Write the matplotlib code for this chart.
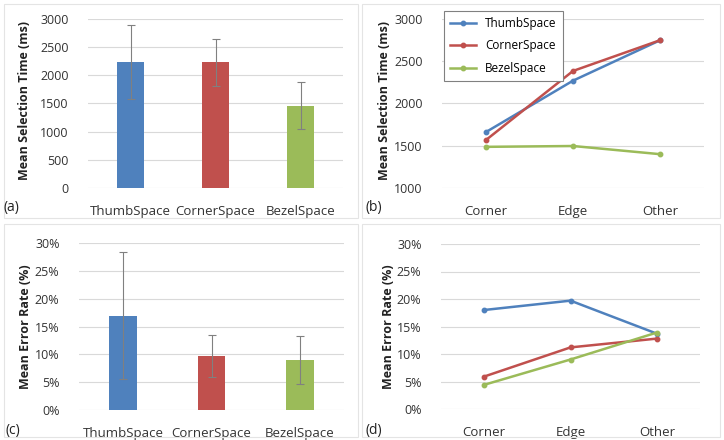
import matplotlib.pyplot as plt
from matplotlib.patches import Rectangle
from matplotlib.ticker import FuncFormatter

plt.rcParams['font.family'] = ['Open Sans', 'DejaVu Sans']

techniques = ['ThumbSpace', 'CornerSpace', 'BezelSpace']
regions = ['Corner', 'Edge', 'Other']
colors = ['#4f81bd', '#c0504d', '#9bbb59']

# (a) mean selection time per technique, with std error bars
time_mean = [2240, 2230, 1460]
time_err = [660, 420, 420]

# (b) selection time per target region
time_by_region = {
    'ThumbSpace': [1660, 2270, 2750],
    'CornerSpace': [1565, 2385, 2750],
    'BezelSpace': [1487, 1497, 1400],
}

# (c) mean error rate per technique (%)
err_mean = [16.9, 9.7, 9.0]
err_err = [11.4, 3.8, 4.3]

# (d) error rate per target region (%)
err_by_region = {
    'ThumbSpace': [18.0, 19.7, 13.7],
    'CornerSpace': [5.9, 11.2, 12.8],
    'BezelSpace': [4.4, 9.0, 13.9],
}

W, H = 724, 440
fig = plt.figure(figsize=(W / 100, H / 100), dpi=100)


def px_axes(x0, y0, x1, y1):
    return fig.add_axes([x0 / W, 1 - y1 / H, (x1 - x0) / W, (y1 - y0) / H])


def style(ax, ylim, ticks, fmt=None):
    ax.set_ylim(*ylim)
    ax.set_yticks(ticks)
    ax.set_xlim(-0.5, 2.5)
    ax.grid(axis='y', color='#d9d9d9', linewidth=0.8)
    ax.set_axisbelow(True)
    for s in ax.spines.values():
        s.set_visible(False)
    ax.tick_params(length=0, colors='#333333')
    ax.tick_params(axis='y', pad=14, labelsize=9)
    ax.tick_params(axis='x', pad=12, labelsize=9.5)
    if fmt:
        ax.yaxis.set_major_formatter(FuncFormatter(fmt))


pct = lambda v, p: f'{int(v)}%'

# panel frames
for (x0, y0, x1, y1) in [(4, 4, 358, 218), (362, 4, 720, 218),
                         (4, 224, 358, 437), (362, 224, 720, 437)]:
    fig.patches.append(Rectangle((x0 / W, 1 - y1 / H), (x1 - x0) / W, (y1 - y0) / H,
                                 transform=fig.transFigure, fill=False,
                                 edgecolor='#e4e4e4', linewidth=0.8))

# (a)
ax = px_axes(88, 19, 343, 188)
ax.bar(range(3), time_mean, width=0.32, color=colors,
       yerr=time_err, ecolor='#808080', error_kw=dict(elinewidth=0.8, capsize=3, capthick=0.8))
style(ax, (0, 3000), range(0, 3001, 500))
ax.set_xticks(range(3), techniques)

# (b)
ax = px_axes(442, 19, 704, 188)
for name, c in zip(techniques, colors):
    ax.plot(range(3), time_by_region[name], color=c, lw=1.8, marker='o', ms=3.2, label=name)
style(ax, (1000, 3000), range(1000, 3001, 500))
ax.set_xticks(range(3), regions)
leg = ax.legend(loc='upper left', bbox_to_anchor=(438 / W, 1 - 5 / H),
                bbox_transform=fig.transFigure, fontsize=8.5, frameon=True,
                fancybox=False, edgecolor='#808080', framealpha=1,
                handlelength=2.2, labelspacing=0.8, borderpad=0.5)
leg.get_frame().set_linewidth(0.8)

# (c)
ax = px_axes(79, 243, 344, 410)
ax.bar(range(3), err_mean, width=0.31, color=colors,
       yerr=err_err, ecolor='#808080', error_kw=dict(elinewidth=0.8, capsize=3, capthick=0.8))
style(ax, (0, 30), range(0, 31, 5), pct)
ax.set_xticks(range(3), techniques)

# (d)
ax = px_axes(441, 244, 700, 409)
for name, c in zip(techniques, colors):
    ax.plot(range(3), err_by_region[name], color=c, lw=1.8, marker='o', ms=3.2)
style(ax, (0, 30), range(0, 31, 5), pct)
ax.set_xticks(range(3), regions)

# y labels and panel tags
ylab = dict(rotation=90, ha='center', va='center', fontsize=9, fontweight='bold', color='#222222')
fig.text(25 / W, 1 - 100 / H, 'Mean Selection Time (ms)', **ylab)
fig.text(384 / W, 1 - 100 / H, 'Mean Selection Time (ms)', **ylab)
fig.text(26 / W, 1 - 327 / H, 'Mean Error Rate (%)', **ylab)
fig.text(388 / W, 1 - 327 / H, 'Mean Error Rate (%)', **ylab)
tag = dict(ha='left', va='center', fontsize=10, color='#222222')
fig.text(4 / W, 1 - 208 / H, '(a)', **tag)
fig.text(366 / W, 1 - 208 / H, '(b)', **tag)
fig.text(6 / W, 1 - 430 / H, '(c)', **tag)
fig.text(366 / W, 1 - 430 / H, '(d)', **tag)

fig.savefig('out.png', dpi=100)
